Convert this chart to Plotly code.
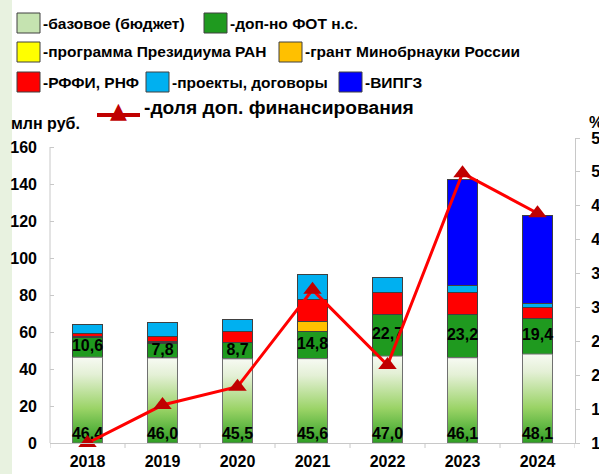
import plotly.graph_objects as go

years = ["2018", "2019", "2020", "2021", "2022", "2023", "2024"]
base = [46.4, 46.0, 45.5, 45.6, 47.0, 46.1, 48.1]
fot = [10.6, 7.8, 8.7, 14.8, 22.7, 23.2, 19.4]
presidium = [0.0, 0.3, 0.0, 0.0, 0.0, 0.0, 0.0]
grant = [0.5, 0.5, 0.0, 5.4, 0.0, 0.0, 0.0]
rffi = [1.8, 3.1, 6.3, 11.8, 11.8, 12.2, 6.0]
projects = [4.8, 7.6, 6.4, 13.5, 8.1, 3.9, 2.1]
vipgz = [0.0, 0.0, 0.0, 0.0, 0.0, 56.8, 47.4]
share = [10.0, 15.6, 18.3, 32.6, 21.5, 49.8, 43.9]

y_ticks = [0, 20, 40, 60, 80, 100, 120, 140, 160]
y2_ticks = [10, 15, 20, 25, 30, 35, 40, 45, 50, 55]

FONT = "Liberation Sans"
W = 0.4
xs = list(range(len(years)))

def fmt(v):
    return f"{v:.1f}".replace(".", ",")

fig = go.Figure()

# invisible base bar (for stacking)
fig.add_trace(go.Bar(x=xs, y=base, width=W, marker=dict(color="rgba(0,0,0,0)", line=dict(width=0)),
                     hoverinfo="skip"))
stack = [
    (fot, "#1f9a1f"),
    (presidium, "#ffff00"),
    (grant, "#ffc000"),
    (rffi, "#ff0000"),
    (projects, "#00b0f0"),
    (vipgz, "#0000ff"),
]
for vals, col in stack:
    fig.add_trace(go.Bar(x=xs, y=vals, width=W,
                         marker=dict(color=col, line=dict(color="#404040", width=1))))

# gradient base bars
for i, b in enumerate(base):
    fig.add_trace(go.Scatter(
        x=[i - W / 2, i + W / 2, i + W / 2, i - W / 2, i - W / 2],
        y=[0, 0, b, b, 0], mode="lines", fill="toself",
        line=dict(color="#707070", width=1),
        fillgradient=dict(type="vertical",
                          colorscale=[[0, "#2e9e24"], [0.4, "#9ad366"], [0.8, "#e4f0d6"], [1, "#f7faf3"]]),
        hoverinfo="skip"))

# labels
fig.add_trace(go.Scatter(x=xs, y=[0] * len(xs), mode="text", text=[fmt(v) for v in base],
                         textposition="top center",
                         textfont=dict(family=FONT, size=16, color="black", weight="bold"),
                         cliponaxis=False, hoverinfo="skip"))
fig.add_trace(go.Scatter(x=xs, y=[b + f / 2 for b, f in zip(base, fot)], mode="text",
                         text=[fmt(v) for v in fot], textposition="middle center",
                         textfont=dict(family=FONT, size=16, color="black", weight="bold"),
                         cliponaxis=False, hoverinfo="skip"))

# share line
fig.add_trace(go.Scatter(x=xs, y=share, yaxis="y2", mode="lines+markers",
                         line=dict(color="#ff0000", width=3),
                         marker=dict(symbol="triangle-up", size=16, color="#c00000"),
                         cliponaxis=False, hoverinfo="skip"))

shapes = [dict(type="rect", xref="paper", yref="paper", x0=-50 / 525, x1=-38 / 525, y0=-1, y1=2,
               fillcolor="#e8f2e0", line=dict(width=0), layer="below")]
annotations = []

def px(x):
    return (x - 50) / 525

def py(y):
    return (443 - y) / 305

def legend_box(x, yc, col, text):
    shapes.append(dict(type="rect", xref="paper", yref="paper",
                       x0=px(x), x1=px(x + 23), y0=py(yc + 10), y1=py(yc - 10),
                       fillcolor=col, line=dict(color="#404040", width=1)))
    annotations.append(dict(xref="paper", yref="paper", x=px(x + 24), y=py(yc), text=text,
                            showarrow=False, xanchor="left", yanchor="middle",
                            font=dict(family=FONT, size=15.5, color="black", weight="bold")))

legend_box(17, 23, "#c5e3b0", "-базовое (бюджет)")
legend_box(204, 23, "#1f9a1f", "-доп-но ФОТ н.с.")
legend_box(17, 52, "#ffff00", "-программа Президиума РАН")
legend_box(279, 52, "#ffc000", "-грант Минобрнауки России")
legend_box(17, 82, "#ff0000", "-РФФИ, РНФ")
legend_box(146, 82, "#00b0f0", "-проекты, договоры")
legend_box(339, 82, "#0000ff", "-ВИПГЗ")

shapes.append(dict(type="line", xref="paper", yref="paper", x0=px(97), x1=px(140),
                   y0=py(115), y1=py(115), line=dict(color="#c00000", width=4)))
annotations.append(dict(xref="paper", yref="paper", x=px(118), y=py(110), text="▲",
                        showarrow=False, xanchor="center", yanchor="middle",
                        font=dict(family="DejaVu Sans", size=22, color="#c00000")))
annotations.append(dict(xref="paper", yref="paper", x=px(142), y=py(108),
                        text="-доля доп. финансирования", showarrow=False,
                        xanchor="left", yanchor="middle",
                        font=dict(family=FONT, size=19.2, color="black", weight="bold")))
annotations.append(dict(xref="paper", yref="paper", x=px(9), y=py(124), text="млн руб.",
                        showarrow=False, xanchor="left", yanchor="middle",
                        font=dict(family=FONT, size=16, color="black", weight="bold")))
annotations.append(dict(xref="paper", yref="paper", x=px(587), y=py(123), text="%",
                        showarrow=False, xanchor="left", yanchor="middle",
                        font=dict(family=FONT, size=16, color="black", weight="bold")))

# left axis line only up to the top tick
shapes.append(dict(type="line", xref="paper", yref="y", x0=0, x1=0, y0=0, y1=y_ticks[-1],
                   line=dict(color="#c8c8c8", width=1)))
# boundary ticks on x axis
for i in range(len(years) + 1):
    shapes.append(dict(type="line", xref="x", yref="paper", x0=i - 0.5, x1=i - 0.5,
                       y0=0, y1=-5 / 305, line=dict(color="#c8c8c8", width=1)))

fig.update_layout(
    width=599, height=474,
    margin=dict(l=50, r=24, t=138, b=31, autoexpand=False),
    paper_bgcolor="white", plot_bgcolor="white",
    barmode="stack", bargap=0.6, showlegend=False,
    font=dict(family=FONT, size=16, color="black"),
    xaxis=dict(range=[-0.5, 6.5], tickvals=xs, ticktext=years, showgrid=False, zeroline=False,
               showline=True, linecolor="#c8c8c8", linewidth=1,
               ticks="", tickfont=dict(family=FONT, size=16, color="black", weight="bold"),
               ticklabelstandoff=4),
    yaxis=dict(range=[0, 160 * 305 / 296], tickvals=y_ticks, showgrid=False, zeroline=False,
               showline=False, ticks="inside", ticklen=4,
               tickcolor="#c8c8c8",
               tickfont=dict(family=FONT, size=16, color="black", weight="bold"),
               ticklabelstandoff=12),
    yaxis2=dict(range=[10, 55], tickvals=y2_ticks, overlaying="y", side="right",
                showgrid=False, zeroline=False, showline=True, linecolor="#c8c8c8",
                linewidth=1, ticks="outside", ticklen=4, tickcolor="#c8c8c8",
                tickfont=dict(family=FONT, size=16, color="black", weight="bold"),
                ticklabelstandoff=8),
    shapes=shapes, annotations=annotations,
)

fig.write_html("out.html", config={"displayModeBar": False},
               post_script="document.body.style.margin='0px';document.body.style.overflow='hidden';")
